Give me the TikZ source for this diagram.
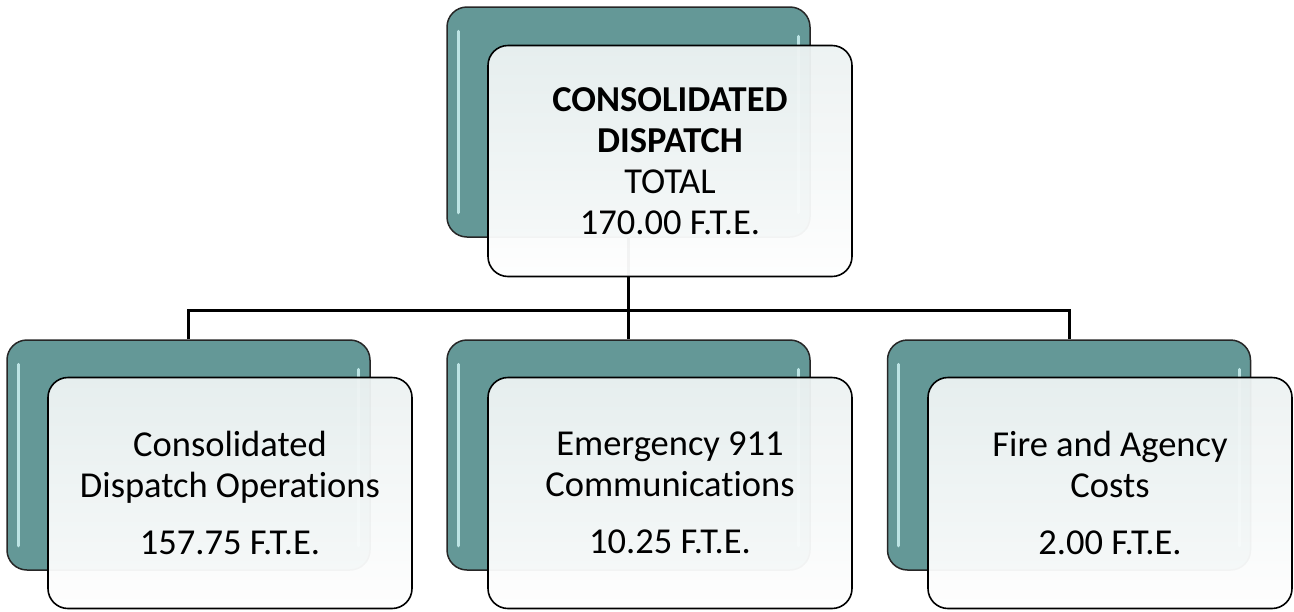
\documentclass[tikz,border=0pt]{standalone}
\usepackage{fontspec}
\setmainfont[Ligatures=NoCommon]{Carlito}
\usetikzlibrary{calc}
\definecolor{tealbox}{RGB}{100,152,151}
\definecolor{tealhi}{RGB}{205,242,242}
\definecolor{frontTop}{RGB}{236,242,242}
\definecolor{frontBot}{RGB}{254,254,254}
\tikzset{
  backbox/.style={draw=black!85, line width=1.5pt, rounded corners=20pt,
    minimum width=363pt, minimum height=230pt, inner sep=0pt, fill=tealbox},
  frontbox/.style={draw=black, line width=1.6pt, rounded corners=20pt,
    minimum width=364pt, minimum height=231pt, inner sep=0pt,
    top color=frontTop, bottom color=frontBot, fill opacity=0.96, text opacity=1,
    align=center, font=\fontsize{36.5pt}{41pt}\selectfont},
  hiline/.style={draw=tealhi, line width=3pt, line cap=round, opacity=0.85},
  conn/.style={draw=black, line width=3pt}
}
\begin{document}
\begin{tikzpicture}[x=1pt,y=-1pt]
\useasboundingbox (0,0) rectangle (1294,611);
% back boxes
\node[backbox] (topback) at (628.5,122) {};
\node[backbox] (leftback) at (188.5,455) {};
\node[backbox] (midback) at (628.5,455) {};
\node[backbox] (rightback) at (1069,455) {};
% highlights
\foreach \b in {topback,leftback,midback,rightback}{
  \draw[hiline] ([xshift=12pt,yshift=-25pt]\b.north west) -- ([xshift=12pt,yshift=25pt]\b.south west);
  \draw[hiline] ([xshift=-12pt,yshift=-30pt]\b.north east) -- ([xshift=-12pt,yshift=25pt]\b.south east);
}
% connectors
\coordinate (bus) at (628.5,310);
\draw[conn] (topback.south) -- (midback.north);
\draw[conn] (leftback.north) -- (leftback.north |- bus) -- (rightback.north |- bus) -- (rightback.north);
% front boxes
\node[frontbox] (topfront) at (670,161) {\textbf{CONSOLIDATED}\\\textbf{DISPATCH}\\TOTAL\\170.00 F.T.E.};
\node[frontbox] (leftfront) at (230,493) {Consolidated\\Dispatch Operations\\[16pt]157.75 F.T.E.};
\node[frontbox] (midfront) at (670,493) {Emergency 911\\Communications\\[16pt]10.25 F.T.E.};
\node[frontbox] (rightfront) at (1110,493) {Fire and Agency\\Costs\\[16pt]2.00 F.T.E.};
\end{tikzpicture}
\end{document}
